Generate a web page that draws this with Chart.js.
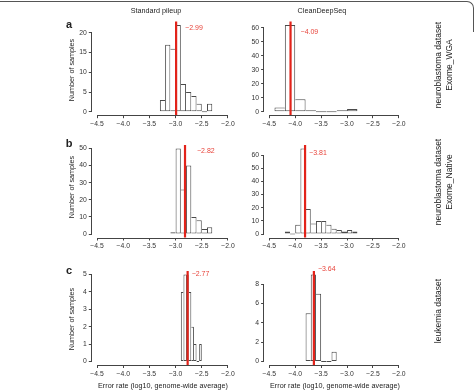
<!DOCTYPE html>
<html>
<head>
<meta charset="utf-8">
<script src="https://cdn.jsdelivr.net/npm/chart.js@4.4.1/dist/chart.umd.min.js"></script>
<style>
  body { margin: 0; background: #fff; }
  #wrap { position: relative; width: 476px; height: 392px; overflow: hidden;
          font-family: "Liberation Sans", Arial, sans-serif; color: #222; }
  canvas { position: absolute; left: 0; top: 0; }
  .t { position: absolute; white-space: nowrap; font-size: 7.2px; line-height: 1;
       transform: translate(-50%, -50%); }
  .rot { transform: translate(-50%, -50%) rotate(-90deg); }
  .letter { font-weight: bold; font-size: 11px; }
  .row { font-size: 8.5px; line-height: 11px; text-align: center; }
  #frame { position: absolute; left: -10px; top: 1px; width: 483px; height: 30px;
           border-top: 1px solid #555; border-right: 1px solid #555; border-top-right-radius: 7px; }
</style>
</head>
<body>
<div id="wrap">
  <div id="frame"></div>
  <canvas id="c0" width="476" height="392"></canvas>
  <canvas id="c1" width="476" height="392"></canvas>
  <canvas id="c2" width="476" height="392"></canvas>
  <canvas id="c3" width="476" height="392"></canvas>
  <canvas id="c4" width="476" height="392"></canvas>
  <canvas id="c5" width="476" height="392"></canvas>

  <div class="t" style="left:156px; top:11px;">Standard pileup</div>
  <div class="t" style="left:322px; top:11px;">CleanDeepSeq</div>

  <div class="t letter" style="left:69px; top:24px;">a</div>
  <div class="t letter" style="left:69px; top:143px;">b</div>
  <div class="t letter" style="left:69px; top:270px;">c</div>

  <div class="t rot" style="left:72px; top:70px;">Number of samples</div>
  <div class="t rot" style="left:72px; top:187px;">Number of samples</div>
  <div class="t rot" style="left:72px; top:319px;">Number of samples</div>

  <div class="t rot row" style="left:444px; top:65px;">neuroblastoma dataset<br>Exome_WGA</div>
  <div class="t rot row" style="left:444px; top:182px;">neuroblastoma dataset<br>Exome_Native</div>
  <div class="t rot row" style="left:438px; top:311px;">leukemia dataset</div>

  <div class="t" style="left:163px; top:386px;">Error rate (log10, genome-wide average)</div>
  <div class="t" style="left:335px; top:386px;">Error rate (log10, genome-wide average)</div>
</div>

<script>
// x축 눈금 (모든 패널 공통)
const xTicks = [-4.5, -4.0, -3.5, -3.0, -2.5, -2.0];

// a: neuroblastoma Exome_WGA
const aStdBins = [-3.25, -3.15, -3.05, -2.95, -2.85, -2.75, -2.65, -2.55, -2.45, -2.35];
const aStdCounts = [3, 17, 16, 22, 7, 5, 4, 2, 0, 2];
const aStdTicks = [0, 5, 10, 15, 20];
const aCdsBins = [-4.3, -4.1, -3.9, -3.7, -3.5, -3.3, -3.1, -2.9];
const aCdsCounts = [3, 62, 9, 1, 0, 0, 1, 2];
const aCdsTicks = [0, 10, 20, 30, 40, 50, 60];

// b: neuroblastoma Exome_Native
const bStdBins = [-3.05, -2.95, -2.85, -2.75, -2.65, -2.55, -2.45, -2.35];
const bStdCounts = [1, 50, 26, 40, 10, 8, 3, 4];
const bStdTicks = [0, 10, 20, 30, 40, 50];
const bCdsBins = [-4.15, -4.05, -3.95, -3.85, -3.75, -3.65, -3.55, -3.45, -3.35, -3.25, -3.15, -3.05, -2.95, -2.85];
const bCdsCounts = [2, 0, 7, 65, 19, 8, 10, 10, 7, 4, 3, 2, 3, 2];
const bCdsTicks = [0, 10, 20, 30, 40, 50, 60];

// c: leukemia
const cStdBins = [-2.875, -2.825, -2.775, -2.725, -2.675, -2.625, -2.575, -2.525];
const cStdCounts = [4, 5, 5, 4, 2, 1, 0, 1];
const cStdTicks = [0, 1, 2, 3, 4, 5];
const cCdsBins = [-3.75, -3.65, -3.55, -3.45, -3.35, -3.25];
const cCdsCounts = [5, 9, 7, 0, 0, 1];
const cCdsTicks = [0, 2, 4, 6, 8];

// 중앙값 (빨간 선)
const medians = [-2.99, -4.09, -2.82, -3.81, -2.77, -3.64];

// 패널 배치: box = [left, top, right, bottom] 플롯 영역, lab = 라벨 오프셋
const panels = [
    { bins: aStdBins, counts: aStdCounts, ticks: aStdTicks, median: medians[0], box: [91.8, 21.5, 233.2, 115.2], lab: [9, 7] },
    { bins: aCdsBins, counts: aCdsCounts, ticks: aCdsTicks, median: medians[1], box: [264.1, 21.5, 404.1, 115.2], lab: [10, 11] },
    { bins: bStdBins, counts: bStdCounts, ticks: bStdTicks, median: medians[2], box: [91.8, 145, 233.2, 237.5], lab: [12, 6] },
    { bins: bCdsBins, counts: bCdsCounts, ticks: bCdsTicks, median: medians[3], box: [264.1, 145, 404.1, 237.5], lab: [4, 8] },
    { bins: cStdBins, counts: cStdCounts, ticks: cStdTicks, median: medians[4], box: [91.8, 271, 233.2, 365], lab: [4, 3] },
    { bins: cCdsBins, counts: cCdsCounts, ticks: cCdsTicks, median: medians[5], box: [264.1, 271, 404.1, 365], lab: [4, -2] }
];

const W = 476, H = 392, Y_W = 30, X_H = 20;
const minus = v => String(v).replace('-', '\u2212');

Chart.defaults.font.family = '"Liberation Sans", Arial, sans-serif';
Chart.defaults.font.size = 6.8;
Chart.defaults.color = '#333';

// 빨간 중앙값 선 + R 스타일 축선
const rPlot = {
    id: 'rPlot',
    afterDatasetsDraw(chart, args, opts) {
        const { ctx, chartArea, scales: { x, y } } = chart;
        ctx.save();
        const px = x.getPixelForValue(opts.median);
        ctx.strokeStyle = '#e2231a';
        ctx.lineWidth = 2.2;
        ctx.beginPath();
        ctx.moveTo(px, chartArea.top);
        ctx.lineTo(px, chartArea.bottom);
        ctx.stroke();

        ctx.fillStyle = '#e8453c';
        ctx.font = '7px "Liberation Sans", Arial, sans-serif';
        ctx.textAlign = 'left';
        ctx.textBaseline = 'middle';
        ctx.fillText(minus(opts.median.toFixed(2)), px + opts.dx, chartArea.top + opts.dy);

        ctx.strokeStyle = '#444';
        ctx.lineWidth = 1;
        const yb = Math.round(chartArea.bottom) + 0.5;
        ctx.beginPath();
        ctx.moveTo(x.getPixelForValue(xTicks[0]), yb);
        ctx.lineTo(x.getPixelForValue(xTicks[xTicks.length - 1]), yb);
        const xl = Math.round(chartArea.left) - 0.5;
        ctx.moveTo(xl, y.getPixelForValue(opts.yTicks[0]));
        ctx.lineTo(xl, y.getPixelForValue(opts.yTicks[opts.yTicks.length - 1]));
        ctx.stroke();
        ctx.restore();
    }
};

panels.forEach((p, i) => {
    const [L, T, R, B] = p.box;
    const top = Math.max(...p.counts);
    const n = p.counts.length;

    new Chart(document.getElementById('c' + i), {
        type: 'bar',
        data: {
            datasets: [{
                data: p.bins.map((b, k) => ({ x: b, y: p.counts[k] })),
                backgroundColor: '#fff',
                borderColor: '#4a4a4a',
                borderSkipped: false,
                minBarLength: 1,
                inflateAmount: 0,
                borderWidth: ctx => {
                    const k = ctx.dataIndex;
                    const c = p.counts[k];
                    return {
                        top: 1, bottom: 1,
                        left: (k === 0 || c >= p.counts[k - 1]) ? 1 : 0,
                        right: (k === n - 1 || c > p.counts[k + 1]) ? 1 : 0
                    };
                },
                barPercentage: 1,
                categoryPercentage: 1
            }]
        },
        options: {
            responsive: false,
            animation: false,
            events: [],
            layout: {
                autoPadding: false,
                padding: { left: L - Y_W, top: T, right: W - R, bottom: H - B - X_H }
            },
            plugins: {
                legend: { display: false },
                tooltip: { enabled: false },
                rPlot: { median: p.median, dx: p.lab[0], dy: p.lab[1], yTicks: p.ticks }
            },
            scales: {
                x: {
                    type: 'linear',
                    offset: false,
                    min: -4.6,
                    max: -1.9,
                    afterBuildTicks: s => { s.ticks = xTicks.map(v => ({ value: v })); },
                    afterFit: s => { s.height = X_H; s.paddingLeft = 0; s.paddingRight = 0; },
                    border: { display: false },
                    grid: { offset: false, drawOnChartArea: false, tickLength: 3, color: '#444' },
                    ticks: { padding: 2, maxRotation: 0, autoSkip: false, callback: v => minus(v.toFixed(1)) }
                },
                y: {
                    min: -0.04 * top,
                    max: 1.04 * top,
                    afterBuildTicks: s => { s.ticks = p.ticks.map(v => ({ value: v })); },
                    afterFit: s => { s.width = Y_W; s.paddingTop = 0; s.paddingBottom = 0; },
                    border: { display: false },
                    grid: { drawOnChartArea: false, tickLength: 3, color: '#444' },
                    ticks: { padding: 2, autoSkip: false, callback: v => String(v) }
                }
            }
        },
        plugins: [rPlot]
    });
});
</script>
</body>
</html>
